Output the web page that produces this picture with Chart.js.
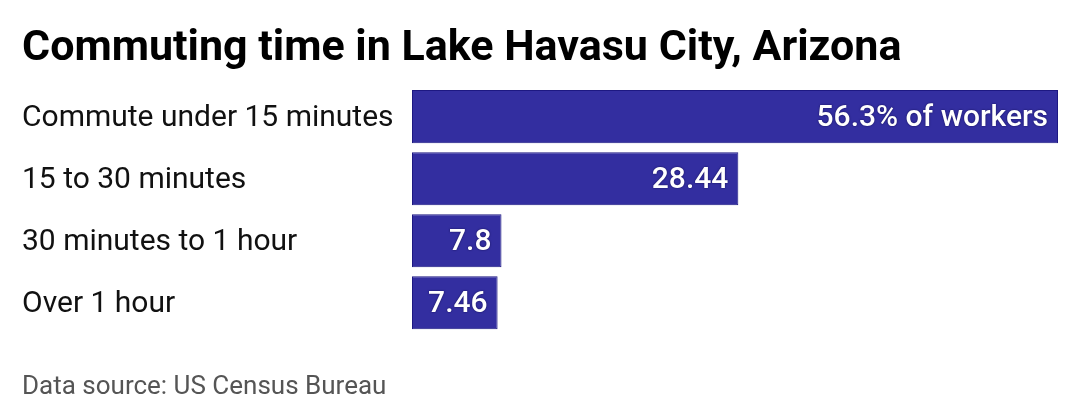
<!DOCTYPE html>
<html lang="en">
  <head>
    <meta charset="UTF-8" />
    <title>Commuting time in Lake Havasu City, Arizona</title>
    <script src="https://cdn.jsdelivr.net/npm/chart.js"></script>
    <style>
      * {
        margin: 0;
        padding: 0;
        box-sizing: border-box;
      }
      body {
        background: #ffffff;
        font-family: Roboto, "Noto Sans", sans-serif;
      }
      .wrap {
        width: 1080px;
        height: 420px;
      }
    </style>
  </head>
  <body>
    <div class="wrap">
      <canvas id="commuteChart"></canvas>
    </div>

    <script>
      const categories = [
        "Commute under 15 minutes",
        "15 to 30 minutes",
        "30 minutes to 1 hour",
        "Over 1 hour",
      ];
      const shares = [56.3, 28.44, 7.8, 7.46];
      const valueLabels = ["56.3% of workers", "28.44", "7.8", "7.46"];

      // writes the value inside the end of each bar
      const barValues = {
        id: "barValues",
        afterDatasetsDraw(chart) {
          const ctx = chart.ctx;
          const meta = chart.getDatasetMeta(0);
          ctx.save();
          ctx.font = "500 30px Roboto";
          ctx.textAlign = "right";
          ctx.textBaseline = "middle";
          ctx.fillStyle = "#ffffff";
          ctx.shadowColor = "rgba(10, 5, 60, 0.8)";
          ctx.shadowBlur = 2;
          meta.data.forEach((bar, i) => {
            ctx.fillText(valueLabels[i], bar.x - 10, bar.y + 2);
          });
          ctx.restore();
        },
      };

      document.addEventListener("DOMContentLoaded", () => {
        const ctx = document.getElementById("commuteChart").getContext("2d");
        new Chart(ctx, {
          type: "bar",
          data: {
            labels: categories,
            datasets: [
              {
                data: shares,
                backgroundColor: "#332ea0",
                borderColor: "#1d1882",
                borderWidth: 1,
                borderSkipped: false,
                categoryPercentage: 0.855,
                barPercentage: 1,
              },
            ],
          },
          options: {
            indexAxis: "y",
            responsive: true,
            maintainAspectRatio: false,
            animation: false,
            layout: {
              padding: { left: 22, right: 22, top: 0, bottom: 0 },
            },
            plugins: {
              legend: { display: false },
              tooltip: { enabled: false },
              title: {
                display: true,
                text: "Commuting time in Lake Havasu City, Arizona",
                align: "start",
                color: "#000000",
                font: { family: "Roboto", size: 43, weight: "bold" },
                padding: { top: 23, bottom: 11 },
              },
              subtitle: {
                display: true,
                position: "bottom",
                text: "Data source: US Census Bureau",
                align: "start",
                color: "#555555",
                font: { family: "Roboto", size: 26 },
                padding: { top: 38, bottom: 17 },
              },
            },
            scales: {
              x: {
                display: false,
                min: 0,
                max: 56.3,
              },
              y: {
                grid: { display: false },
                border: { display: false },
                afterFit(axis) {
                  axis.width = 390;
                },
                ticks: {
                  crossAlign: "far",
                  labelOffset: 2,
                  color: "#111111",
                  font: { family: "Roboto", size: 30 },
                },
              },
            },
          },
          plugins: [barValues],
        });
      });
    </script>
  </body>
</html>
